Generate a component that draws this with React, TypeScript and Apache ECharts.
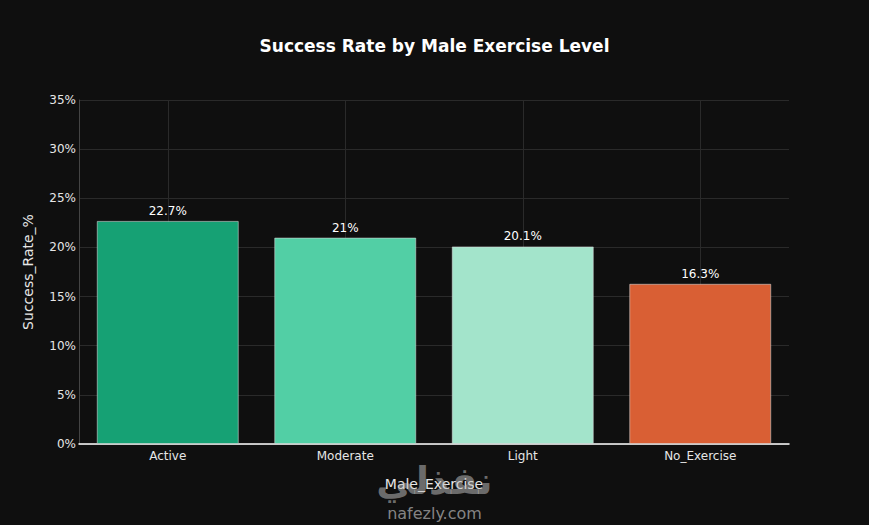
import React, { useEffect, useRef } from 'react';
import * as echarts from 'echarts';

const categories = ['Active', 'Moderate', 'Light', 'No_Exercise'];
const successRates = [22.7, 21, 20.1, 16.3];
const barColors = ['#16a174', '#52cfa5', '#a3e4cb', '#d95f34'];

const App: React.FC = () => {
    const chartRef = useRef<HTMLDivElement | null>(null);

    useEffect(() => {
        document.body.style.margin = '0';
        if (!chartRef.current) return;
        const chart = echarts.init(chartRef.current, null, { renderer: 'svg' });
        const font = '"DejaVu Sans", Verdana, sans-serif';

        chart.setOption({
            animation: false,
            backgroundColor: '#0f0f0f',
            textStyle: { fontFamily: font },
            title: {
                text: 'Success Rate by Male Exercise Level',
                left: 'center',
                top: 32,
                textStyle: { color: '#ffffff', fontSize: 17, fontWeight: 'bold', fontFamily: font },
            },
            grid: { left: 79, right: 80, top: 100, bottom: 81 },
            xAxis: {
                type: 'category',
                data: categories,
                name: 'Male_Exercise',
                nameLocation: 'middle',
                nameGap: 33,
                nameTextStyle: { color: '#e6e6e6', fontSize: 14, fontFamily: font },
                axisLine: { show: true, lineStyle: { color: '#ffffff', width: 1.5 } },
                axisTick: { show: false },
                axisLabel: { color: '#e6e6e6', fontSize: 12, margin: 6, fontFamily: font },
                splitLine: { show: true, alignWithLabel: true, lineStyle: { color: '#2a2a2a' } },
            },
            yAxis: {
                type: 'value',
                min: 0,
                max: 35,
                interval: 5,
                name: 'Success_Rate_%',
                nameLocation: 'middle',
                nameGap: 44,
                nameTextStyle: { color: '#e6e6e6', fontSize: 14, fontFamily: font },
                axisLine: { show: true, lineStyle: { color: '#444444' } },
                axisTick: { show: false },
                axisLabel: { color: '#e6e6e6', fontSize: 12, formatter: '{value}%', margin: 3, fontFamily: font },
                splitLine: { lineStyle: { color: '#2a2a2a' } },
            },
            series: [
                {
                    type: 'bar',
                    barWidth: '80%',
                    data: successRates.map((v, i) => ({
                        value: v,
                        itemStyle: { color: barColors[i] },
                    })),
                    itemStyle: { borderColor: 'rgba(220,220,220,0.55)', borderWidth: 1 },
                    label: {
                        show: true,
                        position: 'top',
                        distance: 4,
                        color: '#ffffff',
                        fontSize: 12,
                        fontFamily: font,
                        formatter: '{c}%',
                    },
                },
            ],
            graphic: [
                {
                    type: 'text',
                    left: 'center',
                    top: 462,
                    z: 100,
                    style: {
                        text: 'نفذلي',
                        fill: 'rgba(190,190,190,0.55)',
                        font: 'bold 38px "DejaVu Sans", sans-serif',
                    },
                },
                {
                    type: 'text',
                    left: 'center',
                    top: 505,
                    z: 100,
                    style: {
                        text: 'nafezly.com',
                        fill: 'rgba(200,200,200,0.65)',
                        font: '16px "DejaVu Sans", sans-serif',
                    },
                },
            ],
        });

        return () => {
            chart.dispose();
        };
    }, []);

    return <div ref={chartRef} style={{ width: '869px', height: '525px' }} />;
};

export default App;
